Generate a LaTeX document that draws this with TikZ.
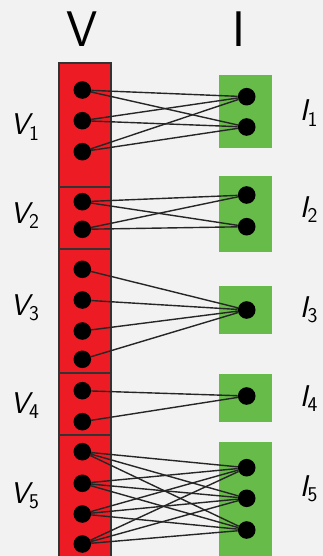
\documentclass[tikz,border=0pt]{standalone}
\usepackage{amsmath}
\definecolor{bgGray}{RGB}{242,242,242}
\definecolor{vRed}{RGB}{237,28,36}
\definecolor{iGreen}{RGB}{103,187,72}
\begin{document}
\begin{tikzpicture}[
            x=1pt, y=-1pt,
            vBox/.style={rectangle, draw=black!80, fill=vRed, line width=2pt,
            minimum width=51.5pt, inner sep=0pt},
            iBox/.style={rectangle, fill=iGreen, minimum width=53pt, inner sep=0pt},
            dotNode/.style={circle, fill=black, minimum size=17.6pt, inner sep=0pt},
            edge/.style={line width=1.4pt, draw=black!85},
            headLabel/.style={font=\fontsize{50}{50}\selectfont\sffamily, anchor=base, inner sep=0pt},
            groupLabel/.style={font=\fontsize{30}{30}\selectfont\sffamily, anchor=base, inner sep=0pt},
        ]
        \useasboundingbox (0,0) rectangle (323,556);
        \fill[bgGray] (0,0) rectangle (323,556);
        % headings
        \node[headLabel] (vHead) at (82,47) {V};
        \node[headLabel] (iHead) at (239,47) {I};
        % V column
        \node[vBox, minimum height=124pt] (vBox1) at (85,125) {};
        \node[vBox, minimum height=62pt]  (vBox2) at (85,218) {};
        \node[vBox, minimum height=124pt] (vBox3) at (85,311) {};
        \node[vBox, minimum height=62pt]  (vBox4) at (85,404) {};
        \node[vBox, minimum height=140pt] (vBox5) at (85,505) {};
        % I column
        \node[iBox, minimum height=72.7pt]  (iBox1) at (245.5,111.3) {};
        \node[iBox, minimum height=75.7pt]  (iBox2) at (245.5,213.8) {};
        \node[iBox, minimum height=48pt]    (iBox3) at (245.5,310) {};
        \node[iBox, minimum height=47.7pt]  (iBox4) at (245.5,397.8) {};
        \node[iBox, minimum height=138.3pt] (iBox5) at (245.5,510.8) {};
        % group labels
        \node[groupLabel] (vLabel1) at (25,135) {$\textsf{\slshape V}_{\textsf{1}}$};
        \node[groupLabel] (vLabel2) at (25,223) {$\textsf{\slshape V}_{\textsf{2}}$};
        \node[groupLabel] (vLabel3) at (25,315) {$\textsf{\slshape V}_{\textsf{3}}$};
        \node[groupLabel] (vLabel4) at (25,413) {$\textsf{\slshape V}_{\textsf{4}}$};
        \node[groupLabel] (vLabel5) at (25,503) {$\textsf{\slshape V}_{\textsf{5}}$};
        \node[groupLabel] (iLabel1) at (309,121) {$\textsf{\slshape I}_{\textsf{1}}$};
        \node[groupLabel] (iLabel2) at (309,217) {$\textsf{\slshape I}_{\textsf{2}}$};
        \node[groupLabel] (iLabel3) at (309,317) {$\textsf{\slshape I}_{\textsf{3}}$};
        \node[groupLabel] (iLabel4) at (309,406) {$\textsf{\slshape I}_{\textsf{4}}$};
        \node[groupLabel] (iLabel5) at (309,496) {$\textsf{\slshape I}_{\textsf{5}}$};
        % dots in V
        \node[dotNode] (v1a) at (82.3,90) {};
        \node[dotNode] (v1b) at (82.3,120.7) {};
        \node[dotNode] (v1c) at (82.3,151.7) {};
        \node[dotNode] (v2a) at (82.3,201.7) {};
        \node[dotNode] (v2b) at (82.3,229.3) {};
        \node[dotNode] (v3a) at (82.3,269.3) {};
        \node[dotNode] (v3b) at (82.3,300) {};
        \node[dotNode] (v3c) at (82.3,331) {};
        \node[dotNode] (v3d) at (82.3,359.3) {};
        \node[dotNode] (v4a) at (82.3,390.7) {};
        \node[dotNode] (v4b) at (82.3,421.7) {};
        \node[dotNode] (v5a) at (82.3,451.7) {};
        \node[dotNode] (v5b) at (82.3,483.3) {};
        \node[dotNode] (v5c) at (82.3,514) {};
        \node[dotNode] (v5d) at (82.3,544) {};
        % dots in I
        \node[dotNode] (i1a) at (246.7,96.7) {};
        \node[dotNode] (i1b) at (246.7,127) {};
        \node[dotNode] (i2a) at (246.7,195) {};
        \node[dotNode] (i2b) at (246.7,226.7) {};
        \node[dotNode] (i3a) at (246.7,310) {};
        \node[dotNode] (i4a) at (246.7,396) {};
        \node[dotNode] (i5a) at (246.7,467.7) {};
        \node[dotNode] (i5b) at (246.7,498.3) {};
        \node[dotNode] (i5c) at (246.7,530) {};
        % edges
        \draw[edge] (v1a) -- (i1a) (v1a) -- (i1b);
        \draw[edge] (v1b) -- (i1a) (v1b) -- (i1b);
        \draw[edge] (v1c) -- (i1a) (v1c) -- (i1b);
        \draw[edge] (v2a) -- (i2a) (v2a) -- (i2b);
        \draw[edge] (v2b) -- (i2a) (v2b) -- (i2b);
        \draw[edge] (v3a) -- (i3a) (v3b) -- (i3a) (v3c) -- (i3a) (v3d) -- (i3a);
        \draw[edge] (v4a) -- (i4a) (v4b) -- (i4a);
        \draw[edge] (v5a) -- (i5a) (v5a) -- (i5b) (v5a) -- (i5c);
        \draw[edge] (v5b) -- (i5a) (v5b) -- (i5b) (v5b) -- (i5c);
        \draw[edge] (v5c) -- (i5a) (v5c) -- (i5b) (v5c) -- (i5c);
        \draw[edge] (v5d) -- (i5a) (v5d) -- (i5b) (v5d) -- (i5c);
    \end{tikzpicture}
\end{document}
